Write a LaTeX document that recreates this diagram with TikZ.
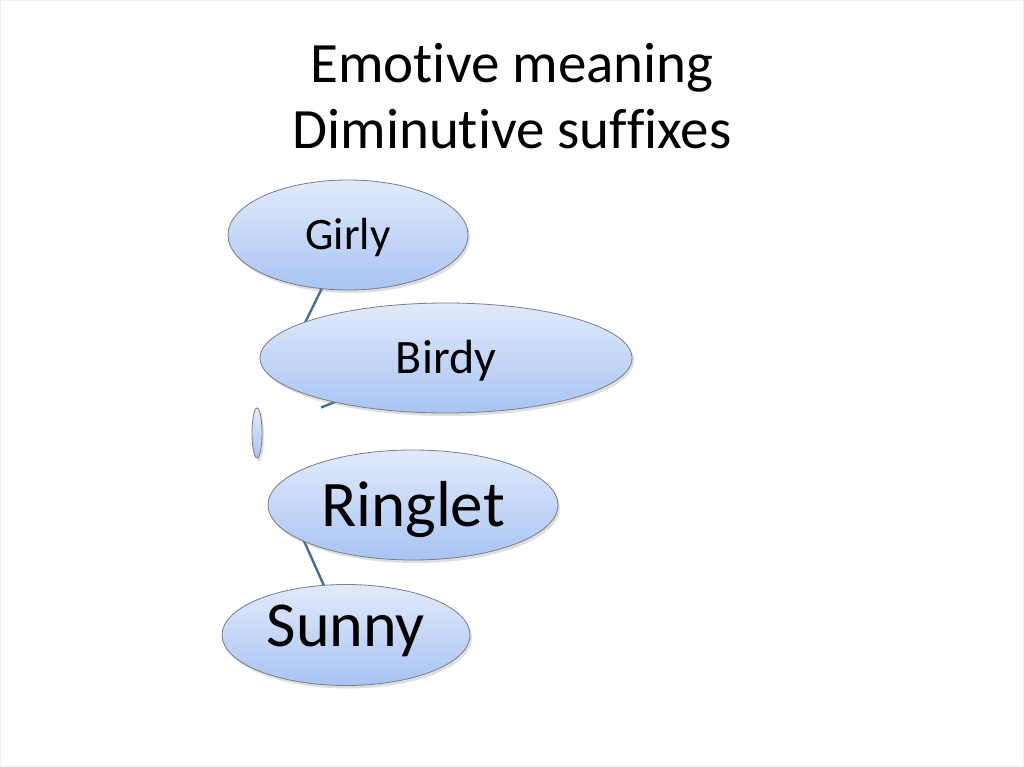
\documentclass[tikz,border=0pt]{standalone}
\usepackage{fontspec}
\setmainfont{Carlito}[Ligatures={NoCommon,NoContextual},RawFeature={-liga;-clig;-dlig}]
\usetikzlibrary{shapes.geometric,shadows}
\definecolor{elltop}{RGB}{226,234,251}
\definecolor{ellbot}{RGB}{168,196,243}
\definecolor{ellborder}{RGB}{120,125,135}
\definecolor{linkblue}{RGB}{68,108,158}
\tikzset{
  bubble/.style={ellipse, draw=ellborder, line width=0.8pt, top color=elltop, bottom color=ellbot,
    inner sep=0pt, text=black, drop shadow={shadow xshift=2pt, shadow yshift=-3pt, opacity=0.25, fill=gray}},
  link/.style={draw=linkblue, line width=2.4pt},
  titletext/.style={font=\fontsize{57}{66}\selectfont, align=center, text=black}
}
\begin{document}
\begin{tikzpicture}[x=1pt,y=-1pt]
\useasboundingbox (0,0) rectangle (1024,767);
\fill[white] (0,0) rectangle (1024,767);
\draw[black!6, line width=1pt] (0.5,0.5) rectangle (1023.5,766.5);

\node[titletext] (title) at (512,96) {Emot\kern0pt ive meaning\\Diminut\kern0pt ive suf\kern0pt f\kern0pt ixes};

% connector ends hidden behind the bubbles
\coordinate (c1) at (300,333);
\coordinate (c2) at (321,407.5);
\coordinate (c3) at (300,532);
\coordinate (hubc) at (257,433);
\coordinate (gc) at (348,235);
\coordinate (bc) at (446,358);
\coordinate (sc) at (346,635);

\draw[link] (gc) -- (c1);
\draw[link] (bc) -- (c2);
\draw[link] (sc) -- (c3);

\node[bubble, minimum width=240pt, minimum height=110pt, font=\fontsize{45}{54}\selectfont, text height=29pt, text depth=0pt] (girly) at (gc) {Girly};
\node[bubble, minimum width=372pt, minimum height=110pt, font=\fontsize{48}{56}\selectfont, text height=31pt, text depth=0pt] (birdy) at (bc) {Birdy};
\node[bubble, minimum width=10pt, minimum height=50pt] (hub) at (hubc) {};
\node[bubble, minimum width=290pt, minimum height=110pt, font=\fontsize{65}{74}\selectfont, text height=42pt, text depth=0pt] (ringlet) at (413,505) {Ringlet};
\node[bubble, minimum width=248pt, minimum height=101pt, font=\fontsize{64}{74}\selectfont, text height=41pt, text depth=18pt] (sunny) at (sc) {Sunny};
\end{tikzpicture}
\end{document}
